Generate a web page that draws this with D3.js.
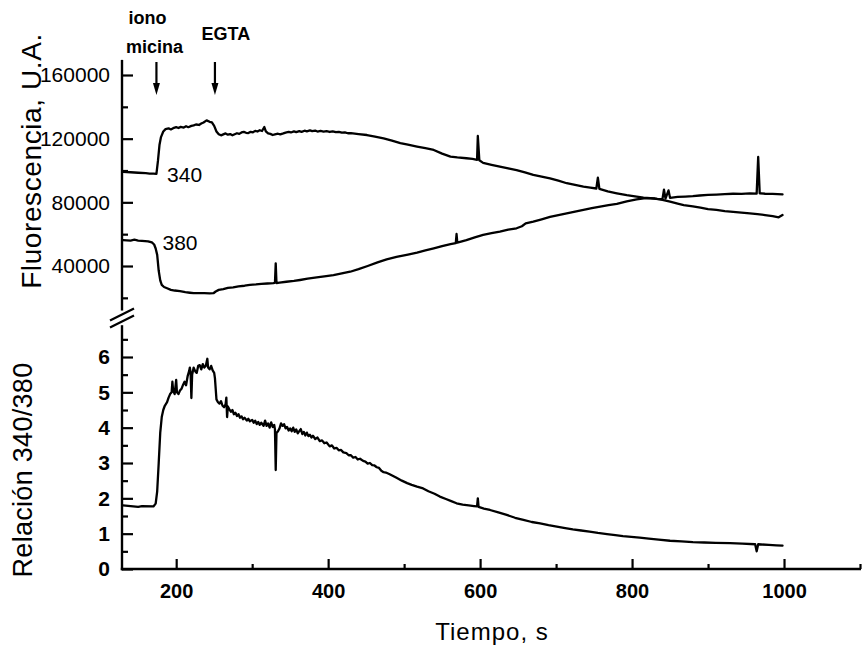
<!DOCTYPE html>
<html>
<head>
<meta charset="utf-8">
<script src="https://cdn.jsdelivr.net/npm/d3@7"></script>
<style>
  html, body { margin: 0; padding: 0; background: #fff; }
  svg { display: block; font-family: "Liberation Sans", Arial, Helvetica, sans-serif; }
</style>
</head>
<body>
<svg id="chart" width="862" height="656"></svg>
<script>
// ---- Fluorescence at 340 nm excitation (time in s, U.A.) ----
const time340 = [130,140,150,160,165,170,174,176,178,180,183,186,190,193,196,200,203,206,210,213,216,220,223,226,230,233,236,240,244,247,250,253,256,259,262,265,268,271,274,277,280,283,286,289,292,295,298,301,304,307,310,313,316,318,321,324,327,330,334,337,341,344,348,351,355,358,362,365,369,372,376,379,383,386,390,394,398,402,406,410,414,418,422,426,430,440,451,460,473,484,495,505,517,528,539,550,561,570,582,590,596,597,599,604,615,626,637,648,659,670,681,692,703,714,725,736,745,753,755,757,768,780,793,806,815,824,833,840,842,844,848,850,860,870,880,889,900,911,922,933,944,955,964,966,968,975,985,998];
const fluo340 = [99200,98900,98600,98300,98100,98000,97900,106000,116000,121000,124500,126000,126500,125800,126600,127200,126700,127400,127000,127800,127200,128000,128400,128900,128600,129500,130200,131500,130600,130200,128000,124500,122800,122100,122700,123300,122500,122900,122100,122800,123400,123000,123900,124300,123700,123500,124300,124000,124900,124500,125300,124800,127300,124600,123300,123000,122300,122700,123100,122700,123300,123800,124300,123900,124600,124100,124700,124300,125000,124600,125200,124700,125000,124500,124900,124400,124700,124200,124600,124100,124300,123800,124000,123400,123500,122900,122300,121400,120200,118800,117200,116200,115000,114000,112900,110600,108700,108200,107700,107300,106700,121700,106400,104800,103600,102400,101300,100300,98800,97200,96100,95100,93600,92000,90900,89800,89200,88700,95500,88500,86900,85700,84500,83600,83000,82600,82200,82000,88000,82300,87500,82800,83400,83600,83900,84300,84700,84900,85200,85400,85300,85600,85500,108500,85700,85400,85300,85000];

// ---- Fluorescence at 380 nm excitation ----
const time380 = [130,140,145,150,155,163,168,171,173,175,177,179,181,184,188,193,198,205,212,218,223,230,237,244,249,252,256,262,268,275,282,290,297,305,312,320,328,330,331,332,336,345,355,363,373,385,395,407,418,429,440,452,465,477,490,505,517,528,539,550,561,568,569,570,582,593,604,615,626,637,648,655,660,670,681,692,703,714,725,736,747,758,769,780,793,806,818,830,840,850,860,868,880,890,900,911,922,933,944,955,965,975,985,993,998];
const fluo380 = [56300,56000,56500,56000,55800,55500,54800,53500,51000,47000,37000,31000,28100,26800,26000,25000,24600,24200,23600,23200,22900,23000,22900,22800,22900,24000,25000,25500,26200,26600,27200,27600,28100,28400,28800,29000,29200,29500,41700,29300,29600,30100,30600,31200,32000,32800,33500,34300,35300,36400,38000,40000,42300,44200,45800,47200,48400,49800,51100,52500,53800,54400,60100,54700,56300,58000,59500,60600,61600,62800,63700,65000,66800,67900,69300,70800,72000,73100,74200,75200,76300,77300,78200,79000,80600,81900,82700,82400,81600,80400,79200,78300,77500,76700,75800,75200,74500,74000,73500,73100,72600,72000,71400,70600,72000];

// ---- Ratio 340/380 ----
const timeRatio = [130,140,150,155,170,173,175,177,179,181,183,185,188,190,192,194,195,196,198,200,201,203,205,207,209,211,213,215,217,218,219,220,221,223,225,227,229,231,233,235,237,239,241,242,244,246,248,250,251,253,255,257,259,261,263,265,266,267,268,270,272,274,276,278,280,282,284,286,288,290,293,295,297,300,302,304,306,308,310,312,315,317,319,321,323,325,327,329,330,331,332,334,336,338,340,342,344,346,348,350,352,354,356,358,360,362,364,366,368,370,372,374,376,378,380,383,386,389,392,395,398,402,405,408,411,414,417,420,424,427,430,433,436,439,442,446,449,452,455,458,461,464,467,470,473,476,481,490,497,504,510,517,525,532,540,547,555,562,569,577,585,592,596,597,598,605,613,624,635,646,657,668,679,690,701,712,722,733,744,755,767,778,788,799,810,822,835,850,865,880,895,910,929,945,962,964,966,980,990,998];
const ratio = [1.80,1.78,1.76,1.78,1.77,1.85,2.2,3.0,3.85,4.3,4.5,4.62,4.72,4.85,4.95,5.0,5.3,5.05,4.95,5.35,5.0,4.95,5.05,5.1,5.21,5.3,5.2,5.45,5.6,5.7,5.55,4.84,5.5,5.7,5.6,5.55,5.75,5.77,5.65,5.8,5.7,5.75,5.95,5.7,5.65,5.75,5.62,5.55,5.4,4.8,4.72,4.68,4.75,4.62,4.58,4.66,4.85,4.3,4.6,4.52,4.45,4.5,4.38,4.42,4.33,4.38,4.28,4.32,4.24,4.28,4.2,4.25,4.18,4.22,4.14,4.2,4.1,4.16,4.08,4.14,4.05,4.2,4.05,4.12,4.0,4.15,4.02,4.08,3.95,2.8,3.85,3.9,3.98,4.12,4.05,4.1,3.98,4.02,3.92,3.98,3.9,4.0,3.88,3.95,3.84,3.9,3.96,3.82,3.88,3.78,3.86,3.76,3.8,3.72,3.77,3.68,3.72,3.62,3.64,3.56,3.58,3.47,3.5,3.41,3.43,3.36,3.37,3.3,3.28,3.22,3.22,3.15,3.17,3.1,3.12,3.06,3.04,2.98,3.0,2.94,2.93,2.88,2.86,2.78,2.74,2.73,2.68,2.58,2.5,2.43,2.38,2.33,2.28,2.2,2.13,2.05,1.98,1.92,1.86,1.82,1.8,1.78,1.77,2.0,1.76,1.71,1.67,1.6,1.53,1.45,1.39,1.33,1.29,1.24,1.2,1.16,1.12,1.09,1.06,1.02,0.99,0.96,0.93,0.91,0.89,0.86,0.83,0.8,0.78,0.76,0.75,0.74,0.73,0.72,0.7,0.5,0.7,0.68,0.67,0.66];

// ---- Axis ticks ----
const xMajor = [200,400,600,800,1000];
const xMinor = [300,500,700,900,1100];
const fluoMajor = [40000,80000,120000,160000];
const fluoMinor = [20000,60000,100000,140000];
const ratioMajor = [0,1,2,3,4,5,6];
const ratioMinor = [0.5,1.5,2.5,3.5,4.5,5.5,6.5];

// ---- Events (arrows) ----
const events = [
  { time: 174, lines: ["iono", "micina"] },
  { time: 251, lines: ["EGTA"] }
];
const traceLabels = [
  { text: "340", time: 188, value: 93000 },
  { text: "380", time: 182, value: 50000 }
];

const svg = d3.select("#chart");
const axisX = 122;

const x = d3.scaleLinear().domain([130, 1100]).range([123, 860]);
const yTop = d3.scaleLinear().domain([40000, 160000]).range([266, 75]);
const yBot = d3.scaleLinear().domain([0, 6]).range([569, 357]);

const ink = "#000";

// axis lines
const topAxisExtent = [12000, 169500];
const botAxisExtent = [0, 6.9];
svg.append("line")
  .attr("x1", axisX).attr("x2", axisX)
  .attr("y1", yTop(topAxisExtent[0])).attr("y2", yTop(topAxisExtent[1]))
  .attr("stroke", ink).attr("stroke-width", 2.4);
svg.append("line")
  .attr("x1", axisX).attr("x2", axisX)
  .attr("y1", yBot(botAxisExtent[0]) + 1.2).attr("y2", yBot(botAxisExtent[1]))
  .attr("stroke", ink).attr("stroke-width", 2.4);
svg.append("line")
  .attr("x1", axisX - 1.2).attr("x2", x(1100) + 1)
  .attr("y1", yBot(0)).attr("y2", yBot(0))
  .attr("stroke", ink).attr("stroke-width", 2.4);

// axis break slashes
const brkTop = yTop(topAxisExtent[0]);
[brkTop + 4, brkTop + 11].forEach(cy => {
  svg.append("line")
    .attr("x1", axisX - 12).attr("y1", cy + 6)
    .attr("x2", axisX + 12).attr("y2", cy - 6)
    .attr("stroke", ink).attr("stroke-width", 2.2);
});

function styleAxis(g) {
  g.select(".domain").remove();
  g.selectAll(".tick line").attr("stroke", ink).attr("stroke-width", 2.2);
  g.selectAll(".tick text").attr("fill", ink);
}

// top-panel y axis
svg.append("g").attr("transform", `translate(${axisX},0)`)
  .call(d3.axisLeft(yTop).tickValues(fluoMajor).tickSize(-11).tickPadding(12).tickFormat(d3.format("d")))
  .call(styleAxis)
  .call(g => g.selectAll(".tick text").attr("font-size", 21).attr("font-family", "Liberation Sans, Arial, sans-serif"));
svg.append("g").attr("transform", `translate(${axisX},0)`)
  .call(d3.axisLeft(yTop).tickValues(fluoMinor).tickSize(-6).tickFormat(""))
  .call(styleAxis);

// bottom-panel y axis
svg.append("g").attr("transform", `translate(${axisX},0)`)
  .call(d3.axisLeft(yBot).tickValues(ratioMajor).tickSize(-11).tickPadding(12).tickFormat(d3.format("d")))
  .call(styleAxis)
  .call(g => g.selectAll(".tick text").attr("font-size", 21).attr("font-weight", "bold").attr("font-family", "Liberation Sans, Arial, sans-serif"));
svg.append("g").attr("transform", `translate(${axisX},0)`)
  .call(d3.axisLeft(yBot).tickValues(ratioMinor).tickSize(-6).tickFormat(""))
  .call(styleAxis);

// x axis
svg.append("g").attr("transform", `translate(0,${yBot(0)})`)
  .call(d3.axisBottom(x).tickValues(xMajor).tickSize(-10).tickPadding(15).tickFormat(d3.format("d")))
  .call(styleAxis)
  .call(g => g.selectAll(".tick text").attr("font-size", 20).attr("font-weight", "bold").attr("font-family", "Liberation Sans, Arial, sans-serif"));
svg.append("g").attr("transform", `translate(0,${yBot(0)})`)
  .call(d3.axisBottom(x).tickValues(xMinor).tickSize(-5).tickFormat(""))
  .call(styleAxis);

// traces
const lineTop = d3.line().x(d => x(d[0])).y(d => yTop(d[1]));
const lineBot = d3.line().x(d => x(d[0])).y(d => yBot(d[1]));
const traceStyle = p => p.attr("fill", "none").attr("stroke", ink)
  .attr("stroke-width", 2.3).attr("stroke-linejoin", "round").attr("stroke-linecap", "round");

svg.append("path").datum(d3.zip(time340, fluo340)).attr("d", lineTop).call(traceStyle);
svg.append("path").datum(d3.zip(time380, fluo380)).attr("d", lineTop).call(traceStyle);
svg.append("path").datum(d3.zip(timeRatio, ratio)).attr("d", lineBot).call(traceStyle);

// trace labels
svg.selectAll("text.trace").data(traceLabels).join("text")
  .attr("class", "trace")
  .attr("x", d => x(d.time)).attr("y", d => yTop(d.value))
  .attr("font-size", 21).attr("fill", ink)
  .text(d => d.text);

// event arrows and captions
events.forEach(ev => {
  const ax = x(ev.time);
  svg.append("line")
    .attr("x1", ax).attr("x2", ax).attr("y1", 62).attr("y2", 86)
    .attr("stroke", ink).attr("stroke-width", 2.2);
  svg.append("path")
    .attr("d", `M${ax - 3.5},83 L${ax + 3.5},83 L${ax},95 Z`)
    .attr("fill", ink);
  const t = svg.append("text")
    .attr("font-size", 18).attr("font-weight", "bold").attr("fill", ink)
    .attr("text-anchor", "middle");
  if (ev.lines.length === 2) {
    t.append("tspan").attr("x", ax - 9).attr("y", 24).text(ev.lines[0]);
    t.append("tspan").attr("x", ax - 2).attr("y", 53).text(ev.lines[1]);
  } else {
    t.append("tspan").attr("x", ax + 11).attr("y", 40).text(ev.lines[0]);
  }
});

// axis titles
svg.append("text")
  .attr("transform", "translate(41,161) rotate(-90)")
  .attr("text-anchor", "middle").attr("font-size", 28).attr("letter-spacing", 0.6)
  .attr("fill", ink).text("Fluorescencia, U.A.");
svg.append("text")
  .attr("transform", "translate(32,470) rotate(-90)")
  .attr("text-anchor", "middle").attr("font-size", 27).attr("letter-spacing", 0.3)
  .attr("fill", ink).text("Relación 340/380");
svg.append("text")
  .attr("x", 492).attr("y", 640)
  .attr("text-anchor", "middle").attr("font-size", 24).attr("letter-spacing", 1)
  .attr("fill", ink).text("Tiempo, s");
</script>
</body>
</html>
